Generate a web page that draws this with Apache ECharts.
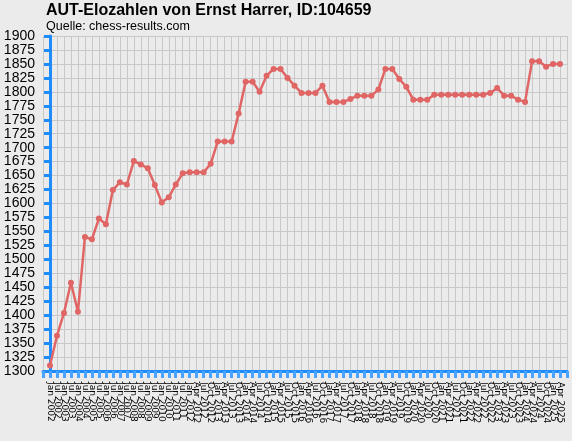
<!DOCTYPE html>
<html>
<head>
<meta charset="utf-8">
<script src="https://cdn.jsdelivr.net/npm/echarts@6/dist/echarts.min.js"></script>
<style>
html,body{margin:0;padding:0;background:#ebebeb;}
#chart{width:572px;height:441px;}
</style>
</head>
<body>
<div id="chart"></div>
<script>
var titleText = 'AUT-Elozahlen von Ernst Harrer, ID:104659';
var subtitleText = 'Quelle: chess-results.com';

// Rating list dates: semiannual 2002-2012, then quarterly
var categories = [
 'Jan 2002','Jul 2002','Jan 2003','Jul 2003','Jan 2004','Jul 2004','Jan 2005','Jul 2005',
 'Jan 2006','Jul 2006','Jan 2007','Jul 2007','Jan 2008','Jul 2008','Jan 2009','Jul 2009',
 'Jan 2010','Jul 2010','Jan 2011','Jul 2011','Jan 2012',
 'Apr 2012','Jul 2012','Oct 2012',
 'Jan 2013','Apr 2013','Jul 2013','Oct 2013',
 'Jan 2014','Apr 2014','Jul 2014','Oct 2014',
 'Jan 2015','Apr 2015','Jul 2015','Oct 2015',
 'Jan 2016','Apr 2016','Jul 2016','Oct 2016',
 'Jan 2017','Apr 2017','Jul 2017','Oct 2017',
 'Jan 2018','Apr 2018','Jul 2018','Oct 2018',
 'Jan 2019','Apr 2019','Jul 2019','Oct 2019',
 'Jan 2020','Apr 2020','Jul 2020','Oct 2020',
 'Jan 2021','Apr 2021','Jul 2021','Oct 2021',
 'Jan 2022','Apr 2022','Jul 2022','Oct 2022',
 'Jan 2023','Apr 2023','Jul 2023','Oct 2023',
 'Jan 2024','Apr 2024','Jul 2024','Oct 2024',
 'Jan 2025','Apr 2025'
];

var ratings = [
 1310,1363,1404,1458,1406,1540,1536,1573,1563,1624,
 1638,1634,1676,1670,1663,1633,1602,1611,1634,1654,
 1656,1656,1656,1671,1711,1711,1711,1761,1818,1818,
 1800,1829,1841,1841,1825,1811,1798,1798,1798,1811,
 1782,1782,1782,1787,1793,1793,1793,1804,1841,1841,
 1823,1809,1786,1786,1786,1795,1795,1795,1795,1795,
 1795,1795,1795,1798,1807,1793,1793,1786,1782,1855,
 1855,1845,1850,1850
];

var yMin = 1300, yMax = 1900, yStep = 25;

var seriesData = ratings.map(function(v, i){ return [i, v]; });

var chart = echarts.init(document.getElementById('chart'), null, {renderer:'canvas'});
chart.setOption({
  backgroundColor: '#ebebeb',
  animation: false,
  title: [{
    text: titleText,
    left: 41, top: -2,
    textStyle: {fontFamily: 'Liberation Sans', fontWeight: 'bold', fontSize: 16, color: '#000'}
  },{
    text: subtitleText,
    left: 41, top: 15,
    textStyle: {fontFamily: 'Liberation Sans', fontWeight: 'normal', fontSize: 12.5, color: '#000'}
  }],
  grid: {left: 43, right: 5, top: 36, bottom: 70, containLabel: false},
  xAxis: {
    type: 'value',
    min: -1, max: 74, interval: 1,
    axisLine: {show: true, lineStyle: {color: '#1e8cff', width: 3}},
    axisTick: {show: true, length: 7, lineStyle: {color: '#4aa4ff', width: 3}},
    splitLine: {show: true, lineStyle: {color: '#c8c8c8', width: 1}},
    axisLabel: {
      rotate: -90, margin: 11, fontSize: 9, fontFamily: 'DejaVu Sans', color: '#000',
      formatter: function(v){ return (v >= 0 && v < categories.length) ? categories[v] : ''; }
    }
  },
  yAxis: {
    type: 'value',
    min: yMin, max: yMax, interval: yStep,
    axisLine: {show: true, lineStyle: {color: '#1e8cff', width: 3}},
    axisTick: {show: true, length: 6, lineStyle: {color: '#1e8cff', width: 3}},
    splitLine: {show: true, lineStyle: {color: '#c8c8c8', width: 1}},
    axisLabel: {margin: 8, fontSize: 14, fontFamily: 'Liberation Sans', color: '#000',
      formatter: function(v){ return String(v); }}
  },
  series: [{
    type: 'line',
    data: seriesData,
    symbol: 'circle',
    symbolSize: 6,
    lineStyle: {color: '#e06666', width: 2.5},
    itemStyle: {color: '#e06666'}
  }]
});
</script>
</body>
</html>
